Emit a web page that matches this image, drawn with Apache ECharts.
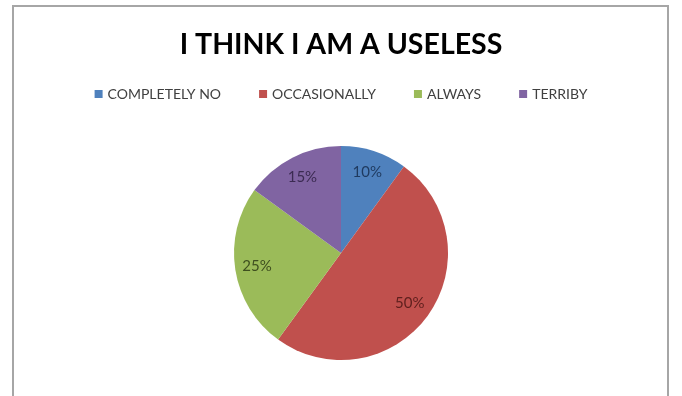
<!DOCTYPE html>
<html>
<head>
<meta charset="utf-8">
<script src="https://cdn.jsdelivr.net/npm/echarts@6/dist/echarts.min.js"></script>
<style>
  html, body { margin: 0; padding: 0; background: #fff; }
  #main { width: 682px; height: 396px; }
</style>
</head>
<body>
<div id="main"></div>
<script>
// answers, in the order they go round the pie
var names = ['COMPLETELY NO', 'OCCASIONALLY', 'ALWAYS', 'TERRIBY'];
var shares = [10, 50, 25, 15];
var colors = ['#4F81BD', '#C0504D', '#9BBB59', '#8064A2'];
var labelColors = ['#1F3A5F', '#5E1F1D', '#3E4F1F', '#3B2B52'];

var myChart = echarts.init(document.getElementById('main'));

var slices = [];
var labelSlices = [];
for (var i = 0; i < names.length; i++) {
    slices.push({ name: names[i], value: shares[i], itemStyle: { color: colors[i] } });
    labelSlices.push({
        name: names[i],
        value: shares[i],
        label: { color: labelColors[i] }
    });
}

var option = {
    animation: false,
    title: {
        text: 'I THINK I AM A USELESS',
        left: 'center',
        top: 25,
        textStyle: {
            fontFamily: 'Lato',
            fontWeight: 'bold',
            fontSize: 28.5,
            color: '#000'
        }
    },
    legend: {
        data: names,
        top: 82,
        left: 'center',
        icon: 'rect',
        itemWidth: 8,
        itemHeight: 8,
        itemGap: 38,
        textStyle: {
            fontFamily: 'Lato',
            fontSize: 14,
            color: '#404040'
        }
    },
    graphic: [{
        type: 'rect',
        shape: { x: 13, y: 6, width: 655, height: 400 },
        style: { fill: 'none', stroke: '#a6a6a6', lineWidth: 2 },
        silent: true
    }],
    series: [
        {
            name: 'share',
            type: 'pie',
            radius: 107,
            center: [341, 253],
            startAngle: 90,
            clockwise: true,
            label: { show: false },
            labelLine: { show: false },
            itemStyle: { borderWidth: 0 },
            data: slices
        },
        {
            // transparent ring, only used to place the percent labels
            name: 'labels',
            type: 'pie',
            radius: [57, 107],
            center: [341, 253],
            startAngle: 90,
            clockwise: true,
            silent: true,
            legendHoverLink: false,
            itemStyle: { color: 'rgba(0,0,0,0)' },
            label: {
                show: true,
                position: 'inside',
                formatter: '{c}%',
                fontFamily: 'Lato',
                fontSize: 15
            },
            labelLine: { show: false },
            data: labelSlices
        }
    ]
};
myChart.setOption(option);
</script>
</body>
</html>
